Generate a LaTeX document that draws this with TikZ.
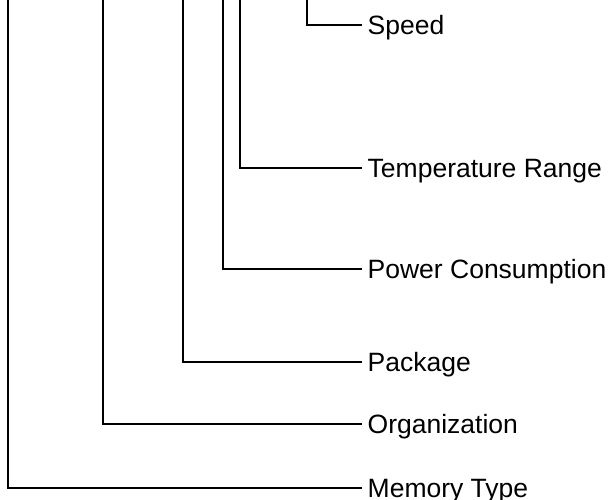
\documentclass[tikz,border=0pt]{standalone}
\usepackage{fontspec}
\setmainfont{Liberation Sans}
\begin{document}
\begin{tikzpicture}[x=1pt,y=-1pt,
  lbl/.style={anchor=west,inner xsep=5.5pt,inner ysep=0pt,text height=19pt,text depth=0pt,
    font=\fontsize{26.5}{30}\selectfont},
  conn/.style={draw=black,line width=2pt}]
\useasboundingbox (0,0) rectangle (611,500);
\node[lbl] (speed) at (362,25) {Speed};
\node[lbl] (temp) at (362,168.5) {Temperature Range};
\node[lbl] (power) at (362,269) {Power Consumption};
\node[lbl] (pack) at (362,362) {Package};
\node[lbl] (org) at (362,423.5) {Organization};
\node[lbl] (mem) at (362,487.5) {Memory Type};
\coordinate (tspeed) at (306.5,-2);
\coordinate (ttemp) at (240,-2);
\coordinate (tpower) at (223.3,-2);
\coordinate (tpack) at (183.3,-2);
\coordinate (torg) at (103.3,-2);
\coordinate (tmem) at (7.5,-2);
\draw[conn] (tspeed) |- (speed.west);
\draw[conn] (ttemp) |- (temp.west);
\draw[conn] (tpower) |- (power.west);
\draw[conn] (tpack) |- (pack.west);
\draw[conn] (torg) |- (org.west);
\draw[conn] (tmem) |- (mem.west);
\end{tikzpicture}
\end{document}
